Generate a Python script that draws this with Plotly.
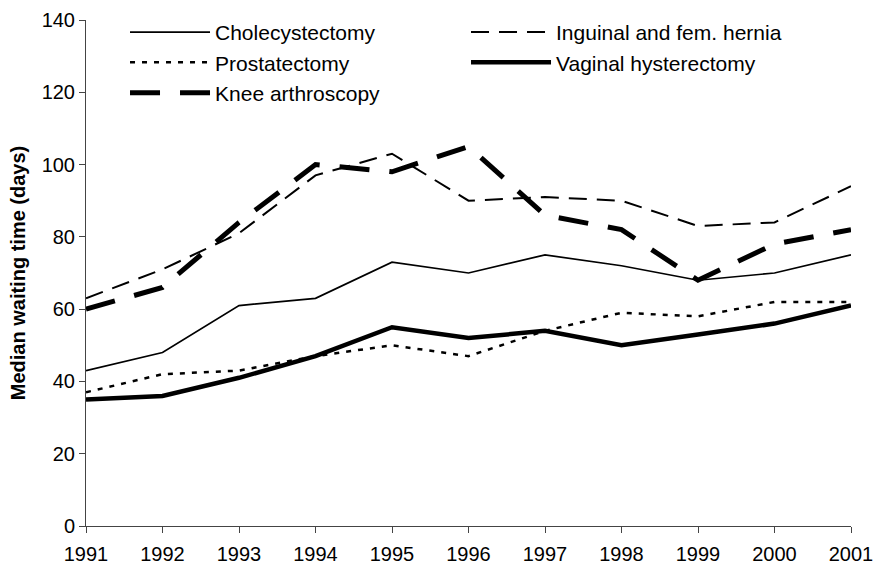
import plotly.graph_objects as go

years = [1991, 1992, 1993, 1994, 1995, 1996, 1997, 1998, 1999, 2000, 2001]
cholecystectomy = [43, 48, 61, 63, 73, 70, 75, 72, 68, 70, 75]
inguinal_hernia = [63, 71, 81, 97, 103, 90, 91, 90, 83, 84, 94]
prostatectomy = [37, 42, 43, 47, 50, 47, 54, 59, 58, 62, 62]
vaginal_hysterectomy = [35, 36, 41, 47, 55, 52, 54, 50, 53, 56, 61]
knee_arthroscopy = [60, 66, 84, 100, 98, 105, 86, 82, 68, 78, 82]

series = [
    ("Cholecystectomy", cholecystectomy, dict(width=1.7, dash="solid")),
    ("Inguinal and fem. hernia", inguinal_hernia, dict(width=2, dash="18px,10px")),
    ("Prostatectomy", prostatectomy, dict(width=2.5, dash="5px,7px")),
    ("Vaginal hysterectomy", vaginal_hysterectomy, dict(width=4.5, dash="solid")),
    ("Knee arthroscopy", knee_arthroscopy, dict(width=5, dash="30px,20px")),
]

fig = go.Figure()
for name, vals, ln in series:
    fig.add_trace(go.Scatter(
        x=years, y=vals, name=name, mode="lines",
        line=dict(color="black", **ln), cliponaxis=False,
    ))

fig.update_layout(
    width=875, height=567,
    margin=dict(l=86, r=24, t=20, b=41, autoexpand=False),
    paper_bgcolor="white", plot_bgcolor="white",
    font=dict(family="Liberation Sans, Arial, sans-serif", size=20, color="black"),
    showlegend=True,
    legend=dict(
        orientation="h", x=0.051, y=1.016, xanchor="left", yanchor="top",
        itemwidth=80, entrywidth=246, entrywidthmode="pixels",
        bgcolor="rgba(0,0,0,0)", font=dict(size=21),
    ),
    xaxis=dict(
        range=[1991, 2001], tickmode="array", tickvals=years,
        ticktext=[str(y) for y in years], automargin=False,
        showgrid=False, zeroline=False, showline=True, linecolor="#444", linewidth=1,
        ticks="outside", ticklen=6, tickcolor="#444", tickfont=dict(size=20),
        ticklabelstandoff=4,
    ),
    yaxis=dict(
        range=[0, 140], tickmode="linear", tick0=0, dtick=20, automargin=False,
        showgrid=False, zeroline=False, showline=True, linecolor="#444", linewidth=1,
        ticks="outside", ticklen=6, tickcolor="#444", tickfont=dict(size=20),
        title=dict(text="<b>Median waiting time (days)</b>", font=dict(size=20), standoff=10),
    ),
)

fig.write_html(
    "out.html",
    config={"displayModeBar": False},
    post_script="document.body.style.margin='0';document.body.style.overflow='hidden';",
)
